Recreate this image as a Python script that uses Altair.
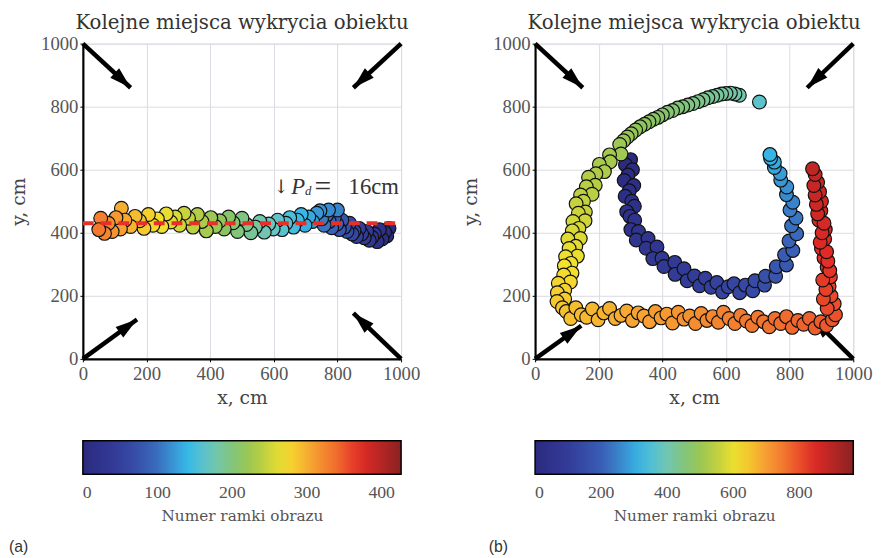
import math
import altair as alt
import pandas as pd

# ---------------- data ----------------
# Panel (a): detections along a roughly horizontal path (frame, x cm, y cm)
a_frame = [0, 4, 8, 12, 16, 20, 24, 28, 32, 36, 40, 44, 48, 52, 56, 60,
           64, 68, 72, 76, 80, 84, 88, 92, 96, 100, 104, 108,
           112, 116, 120,
           124, 128, 132, 136, 140, 144, 148, 152, 156, 160,
           164, 168, 172, 176, 180, 184, 188,
           192, 196, 200, 204, 208, 212, 216, 220, 224, 228,
           232, 236, 240, 244, 248, 252, 256, 260, 264, 268,
           272, 276, 280, 284, 288, 292, 296, 300,
           304, 308, 312, 316, 320, 324, 328, 332]
a_x = [962, 955, 948, 940, 932, 925, 916, 908, 900, 892, 884, 876, 868, 860, 852, 846,
       838, 830, 822, 814, 806, 798, 790, 782, 774, 766, 758, 750,
       800, 772, 745,
       735, 722, 710, 698, 686, 674, 662, 650, 638, 626,
       612, 598, 584, 570, 556, 542, 528,
       514, 500, 486, 472, 458, 444, 430, 416, 402, 388,
       374, 360, 346, 332, 318, 304, 290, 276, 262, 248,
       234, 220, 206, 192, 178, 164, 150, 121,
       132, 118, 104, 92, 80, 68, 56, 50]
a_y = [414, 390, 402, 380, 410, 372, 396, 386, 376, 404, 384, 396, 414, 388, 406, 396,
       430, 404, 418, 440, 410, 428, 448, 416, 436, 456, 424, 444,
       472, 472, 470,
       462, 436, 450, 424, 458, 440, 418, 448, 430, 410,
       440, 412, 428, 402, 436, 418, 400,
       426, 446, 404, 432, 450, 412, 438, 420, 448, 406,
       436, 458, 418, 446, 462, 424, 450, 434, 460, 420,
       444, 424, 458, 414, 438, 452, 420, 478,
       440, 412, 448, 404, 430, 398, 446, 410]

# Panel (b), segment by segment
# blue loop (left side, bottom curve, right side)
b_blue_frame = [0, 4, 8, 12, 16, 20, 24, 28, 32, 36, 40, 44, 48, 52, 56, 60, 64, 68, 72,
                76, 80, 84, 88, 92, 96, 100, 104, 108, 112, 116, 120, 124, 128, 132, 136,
                140, 144, 148,
                156, 164, 172, 180, 188, 196, 204, 212, 220, 228, 236, 244, 252, 260, 268,
                276, 284, 292, 300, 306, 312]
b_blue_x = [300, 284, 306, 292, 280, 310, 296, 283, 304, 312, 288, 298,
            313, 301, 325, 318, 355, 349, 383, 370, 399, 405, 439, 440, 468, 478, 501,
            517, 535, 553, 571, 589, 607, 625, 643, 661, 684, 691,
            721, 724, 756, 758, 790, 784, 810, 798, 822, 806, 820, 801, 810, 790, 791,
            772, 770, 752, 752, 740, 738]
b_blue_y = [632, 616, 600, 583, 566, 550, 533, 516, 500, 484, 467, 452,
            440, 410, 404, 377, 382, 351, 355, 318, 319, 293, 306, 268, 286, 248, 263,
            232, 256, 227, 242, 212, 229, 238, 210, 234, 216, 248,
            234, 262, 262, 292, 298, 330, 344, 374, 397, 422, 447, 472, 497, 521, 545,
            567, 588, 607, 624, 636, 648]
# isolated detection
b_single_frame = [365]
b_single_x = [705]
b_single_y = [815]
# green arc (top part)
b_arc_frame = [400, 404, 408, 412, 416, 420, 424, 428, 432, 436, 440, 444, 448, 452,
               456, 460, 464, 468, 472, 476, 480, 484, 488, 492, 496, 500, 504]
b_arc_x = [642, 628, 614, 600, 586, 572, 558, 543, 528, 512, 496, 480, 464, 448,
           432, 416, 400, 386, 372, 358, 344, 330, 316, 302, 290, 278, 266]
b_arc_y = [836, 840, 843, 842, 840, 836, 832, 828, 822, 816, 810, 805, 800, 796,
           788, 782, 774, 766, 760, 752, 744, 736, 726, 714, 704, 692, 680]
# left leg going down
b_leg_frame = [508, 512, 516, 520, 524, 528, 532, 536, 540, 544, 548, 552, 556, 560,
               564, 568, 572, 576, 580, 584, 588, 592, 596, 600, 604, 608, 612, 616,
               620, 624, 628, 632, 636, 640, 644, 648]
b_leg_x = [270, 234, 236, 202, 218, 191, 168, 189, 161, 179, 143, 152, 129, 158,
           136, 157, 119, 138, 117, 142, 103, 128, 107, 133, 96, 113, 92, 116,
           90, 111, 73, 93, 70, 93, 69, 86]
b_leg_y = [650, 647, 625, 617, 594, 587, 576, 551, 546, 522, 520, 500, 492, 466,
           462, 438, 436, 414, 406, 382, 380, 357, 350, 326, 324, 303, 295, 272,
           266, 244, 240, 218, 210, 190, 182, 162]
# bottom band going right
b_bot_frame = [652, 655, 658, 661, 664, 667, 670, 673, 676, 679, 682, 685, 688, 691,
               694, 697, 700, 703, 706, 709, 712, 715, 718, 721, 724, 727, 730, 733,
               736, 739, 742, 745, 748, 751, 754, 757, 760, 763, 766, 769, 772, 775,
               778, 781, 784, 787, 790, 793, 796]
b_bot_x = [98, 112, 128, 145, 162, 180, 198, 216, 234, 252, 270, 288, 306, 324,
           342, 360, 378, 396, 414, 432, 450, 468, 486, 504, 522, 540, 558, 576,
           592, 610, 628, 646, 664, 682, 700, 718, 736, 754, 772, 790, 808, 826,
           844, 862, 880, 898, 916, 934, 944]
b_bot_y = [150, 128, 162, 140, 132, 158, 124, 146, 160, 128, 138, 152, 122, 146,
           136, 118, 150, 130, 142, 114, 148, 126, 136, 112, 144, 122, 134, 116,
           148, 128, 112, 138, 120, 106, 132, 118, 102, 128, 112, 134, 100, 122,
           110, 128, 98, 118, 106, 124, 140]
# right column going up
b_up_frame = [800, 803, 806, 809, 812, 815, 818, 821, 824, 827, 830, 833, 836, 839,
              842, 845, 848, 851, 854, 857, 860, 863, 866, 869, 872, 875, 878, 881,
              884, 887]
b_up_x = [940, 918, 930, 906, 924, 914, 928, 904, 918, 926, 908, 920, 900, 916,
          910, 896, 912, 902, 892, 908, 898, 888, 900, 884, 894, 880, 888, 876,
          880, 872]
b_up_y = [175, 160, 200, 190, 230, 220, 260, 250, 290, 280, 320, 310, 350, 340,
          380, 370, 410, 400, 440, 430, 470, 460, 500, 490, 530, 520, 560, 550,
          585, 603]

a_frame_max = 426
b_frame_max = 963
a_cbar_ticks = [0, 100, 200, 300, 400]
b_cbar_ticks = [0, 200, 400, 600, 800]
axis_ticks = [0, 200, 400, 600, 800, 1000]

# colour map (fractions of the colour-bar range)
cmap_stops = [0.0, 0.12, 0.22, 0.33, 0.40, 0.50, 0.57, 0.635, 0.72, 0.80, 0.87, 1.0]
cmap_colors = ["#2b2a7f", "#343f9c", "#3a62b8", "#36b9e8", "#6cc6c0", "#8cc45c",
               "#bfd040", "#f4e22c", "#f7a232", "#f06a2e", "#e22a26", "#8a2222"]

# corner arrows (start -> tip, in cm)
arrow_x0 = [0, 1000, 0, 1000]
arrow_y0 = [1000, 1000, 0, 0]
a_arrow_x1 = [150, 850, 170, 850]
a_arrow_y1 = [860, 860, 125, 145]
b_arrow_x1 = [150, 855, 145, 870]
b_arrow_y1 = [860, 860, 105, 130]

ref_line_y = 430
ann_x = [598, 655, 698, 728, 835]
ann_y = [546, 546, 532, 546, 546]
ann_text = ["\u2193", "P", "d", "=", "16cm"]
panel_title = "Kolejne miejsca wykrycia obiektu"
cbar_title = "Numer ramki obrazu"

# ---------------- styling ----------------
W, H = 323, 320
SERIF = "DejaVu Serif"
NUM = "Liberation Serif, Times New Roman, serif"
HEAD = "M0,0L0.9,3L-0.9,3Z"

xs = alt.Scale(domain=[0, 1000], nice=False, zero=False)
ys = alt.Scale(domain=[0, 1000], nice=False, zero=False)


def axis_x():
    return alt.Axis(values=axis_ticks, title="x, cm", format="d", grid=True,
                    gridColor="#dcdae2", domainColor="black", domainWidth=2.2,
                    tickColor="black", tickSize=3,
                    labelFont=NUM, labelFontSize=19, labelColor="#555",
                    titleFont=SERIF, titleFontSize=19, titleFontWeight="normal",
                    titleColor="#444", labelPadding=3, titlePadding=5, labelFlush=False)


def axis_y():
    return alt.Axis(values=axis_ticks, title="y, cm", format="d", grid=True,
                    gridColor="#dcdae2", domainColor="black", domainWidth=2.2,
                    tickColor="black", tickSize=3,
                    labelFont=NUM, labelFontSize=19, labelColor="#555",
                    titleFont=SERIF, titleFontSize=19, titleFontWeight="normal",
                    titleColor="#444", labelPadding=2, titlePadding=12, labelFlush=False)


def panel(frames, xv, yv, fmax, cticks, ax1, ay1, label, label_dx, extra=None):
    df = pd.DataFrame({"frame": frames, "x": xv, "y": yv})
    cs = alt.Scale(domain=[s * fmax for s in cmap_stops], range=cmap_colors,
                   interpolate="rgb", nice=False, zero=False)
    arr = pd.DataFrame({"x0": arrow_x0, "y0": arrow_y0, "x1": ax1, "y1": ay1})
    sx, sy = W / 1000.0, H / 1000.0
    arr["ang"] = [(math.degrees(math.atan2((b - a) * sx, (d - c) * sy)) + 360) % 360
                  for a, b, c, d in zip(arr.x0, arr.x1, arr.y0, arr.y1)]

    base = alt.Chart(arr)
    shafts = base.mark_rule(color="black", strokeWidth=4.5, strokeCap="butt").encode(
        x=alt.X("x0:Q", scale=xs, axis=axis_x()),
        y=alt.Y("y0:Q", scale=ys, axis=axis_y()),
        x2="x1:Q", y2="y1:Q")
    heads = base.mark_point(shape=HEAD, filled=True, color="black", size=215,
                            opacity=1, strokeWidth=0).encode(
        x=alt.X("x1:Q", scale=xs), y=alt.Y("y1:Q", scale=ys),
        angle=alt.Angle("ang:Q", scale=None))

    pts = alt.Chart(df).mark_circle(size=195, stroke="#111", strokeWidth=1.2,
                                    opacity=1).encode(
        x=alt.X("x:Q", scale=xs),
        y=alt.Y("y:Q", scale=ys),
        color=alt.Color("frame:Q", scale=cs, legend=alt.Legend(
            orient="bottom", direction="horizontal", title=cbar_title,
            titleOrient="bottom", titleAnchor="middle", titleFont=SERIF,
            titleFontSize=15.5, titleFontWeight="normal", titleColor="#555",
            titlePadding=8, gradientLength=W, gradientThickness=34,
            gradientStrokeColor="black", gradientStrokeWidth=1.5,
            values=cticks, labelFont=NUM, labelFontSize=18, labelColor="#555",
            labelOverlap=False, labelOffset=10, offset=34)),
        order=alt.Order("frame:Q"))

    lab_df = pd.DataFrame({"t": [label]})
    lab = alt.Chart(lab_df).mark_text(font="Liberation Sans", fontSize=16, color="#333",
                                      align="left", baseline="middle").encode(
        x=alt.value(label_dx), y=alt.value(511), text="t:N")

    layers = [shafts, heads, pts]
    if extra is not None:
        layers += extra
    layers.append(lab)
    return alt.layer(*layers).properties(
        width=W, height=H,
        title=alt.TitleParams(panel_title, font=SERIF, fontSize=20, fontWeight="normal",
                              color="#333", anchor="middle", offset=2))


# reference line and annotation for panel (a)
ref_df = pd.DataFrame({"y": [ref_line_y], "x0": [0], "x1": [1000]})
ref = alt.Chart(ref_df).mark_rule(color="#e8302a", strokeWidth=4,
                                  strokeDash=[11, 7]).encode(
    x=alt.X("x0:Q", scale=xs), x2="x1:Q", y=alt.Y("y:Q", scale=ys))

ann_df = pd.DataFrame({"x": ann_x, "y": ann_y, "t": ann_text})
ann_styles = [(SERIF, 19, "normal"), (NUM, 23, "italic"), (NUM, 13, "italic"),
              (NUM, 30, "normal"), (NUM, 23, "normal")]
ann_layers = []
for i, (fnt, fsz, fst) in enumerate(ann_styles):
    ann_layers.append(
        alt.Chart(ann_df.iloc[[i]]).mark_text(font=fnt, fontSize=fsz, fontStyle=fst,
                                              align="left", color="#333",
                                              baseline="middle").encode(
            x=alt.X("x:Q", scale=xs), y=alt.Y("y:Q", scale=ys), text="t:N"))

b_frame = b_blue_frame + b_single_frame + b_arc_frame + b_leg_frame + b_bot_frame + b_up_frame
b_x = b_blue_x + b_single_x + b_arc_x + b_leg_x + b_bot_x + b_up_x
b_y = b_blue_y + b_single_y + b_arc_y + b_leg_y + b_bot_y + b_up_y

pa = panel(a_frame, a_x, a_y, a_frame_max, a_cbar_ticks, a_arrow_x1, a_arrow_y1,
           "(a)", -75, extra=[ref] + ann_layers)
pb = panel(b_frame, b_x, b_y, b_frame_max, b_cbar_ticks, b_arrow_x1, b_arrow_y1,
           "(b)", -47)

chart = alt.hconcat(pa, pb, spacing=41).resolve_scale(color="independent").configure(
    padding={"left": 0, "top": 0, "right": 0, "bottom": 0},
    background="white"
).configure_view(stroke="#dcdae2", strokeWidth=1)

chart.save("out.html", embed_options={"renderer": "svg", "actions": False})
